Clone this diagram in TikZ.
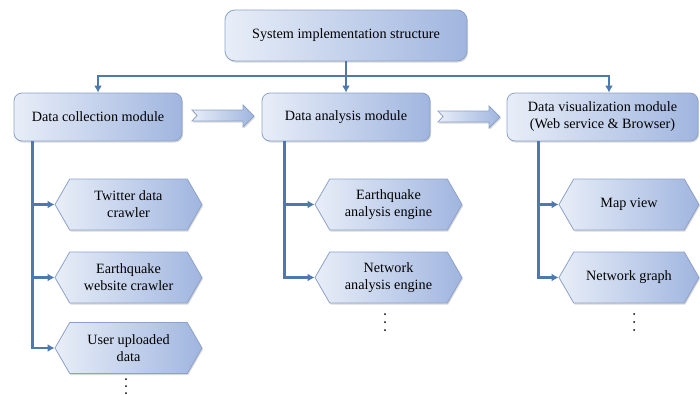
\documentclass[tikz,border=0pt]{standalone}
\usepackage{fontspec}
\setmainfont{Liberation Serif}
\usetikzlibrary{shapes.symbols,shadows,arrows.meta}
\definecolor{lite}{HTML}{E8EEF8}
\definecolor{dark}{HTML}{A0B5DF}
\definecolor{bord}{HTML}{8DA2C8}
\definecolor{linec}{HTML}{4E78B0}
\begin{document}
\begin{tikzpicture}[x=1pt,y=-1pt,
  shad/.style={drop shadow={opacity=0.3, shadow xshift=1pt, shadow yshift=-1.5pt}},
  box/.style={draw=bord, line width=0.8pt, rounded corners=8pt, left color=lite, right color=dark, shad,
    font=\fontsize{14.2}{17}\selectfont, align=center, inner sep=0pt, minimum height=48pt},
  hexa/.style={shape=signal, signal to=west and east, signal pointer angle=120, draw=bord, line width=0.8pt,
    left color=lite, right color=dark, shad, font=\fontsize{14.2}{17}\selectfont, align=center, inner sep=0pt,
    minimum width=147pt, minimum height=51pt},
  conn/.style={draw=linec, line width=2.4pt, -{Latex[length=7pt,width=8pt]}},
  barrow/.style={draw=bord, line width=0.8pt, left color=lite, right color=dark, shad},
  dot/.style={fill=black, draw=none}]
\useasboundingbox (0,0) rectangle (700,394);
\node[box, minimum width=242pt, minimum height=51pt, rounded corners=10pt] (top) at (346,35.5) {System implementation structure};
\node[box, minimum width=168pt] (dc) at (98,117) {Data collection module};
\node[box, minimum width=168pt] (da) at (346,117) {Data analysis module};
\node[box, minimum width=191pt] (dv) at (602.5,117) {Data visualization module\\(Web service \& Browser)};

\node[hexa] (h11) at (128.5,204.5) {Twitter data\\crawler};
\node[hexa] (h12) at (128.5,277.5) {Earthquake\\website crawler};
\node[hexa] (h13) at (128.5,348) {User uploaded\\data};
\node[hexa] (h21) at (388.5,204.5) {Earthquake\\analysis engine};
\node[hexa] (h22) at (388.5,277.5) {Network\\analysis engine};
\node[hexa, minimum width=140pt] (h31) at (629,204.5) {Map view};
\node[hexa, minimum width=140pt] (h32) at (629,277.5) {Network graph};

\coordinate (bus) at (346,76);
\draw[conn] (top.south) -- (da.north);
\draw[conn] (bus) -| (dc.north);
\draw[conn] (bus) -| ([xshift=6.5pt]dv.north);

\coordinate (c1) at ([xshift=19pt]dc.south west);
\coordinate (c2) at ([xshift=23pt]da.south west);
\coordinate (c3) at ([xshift=32pt]dv.south west);
\draw[conn] (c1) |- (h11.west);
\draw[conn] (c1) |- (h12.west);
\draw[conn] (c1) |- (h13.west);
\draw[conn] (c2) |- (h21.west);
\draw[conn] (c2) |- (h22.west);
\draw[conn] (c3) |- (h31.west);
\draw[conn] (c3) |- (h32.west);

\draw[barrow] (192,110) -- (243,110) -- (243,105) -- (254,116) -- (243,127) -- (243,121) -- (192,121) -- (197,115.5) -- cycle;
\draw[barrow] (438,111) -- (489,111) -- (489,106) -- (500,117) -- (489,128) -- (489,122) -- (438,122) -- (443,116.5) -- cycle;

\foreach \y in {379,386,393} \fill[dot] (126,\y) circle (1pt);
\foreach \y in {314,322,330} {\fill[dot] (385,\y) circle (1pt); \fill[dot] (634,\y) circle (1pt);}
\end{tikzpicture}
\end{document}
